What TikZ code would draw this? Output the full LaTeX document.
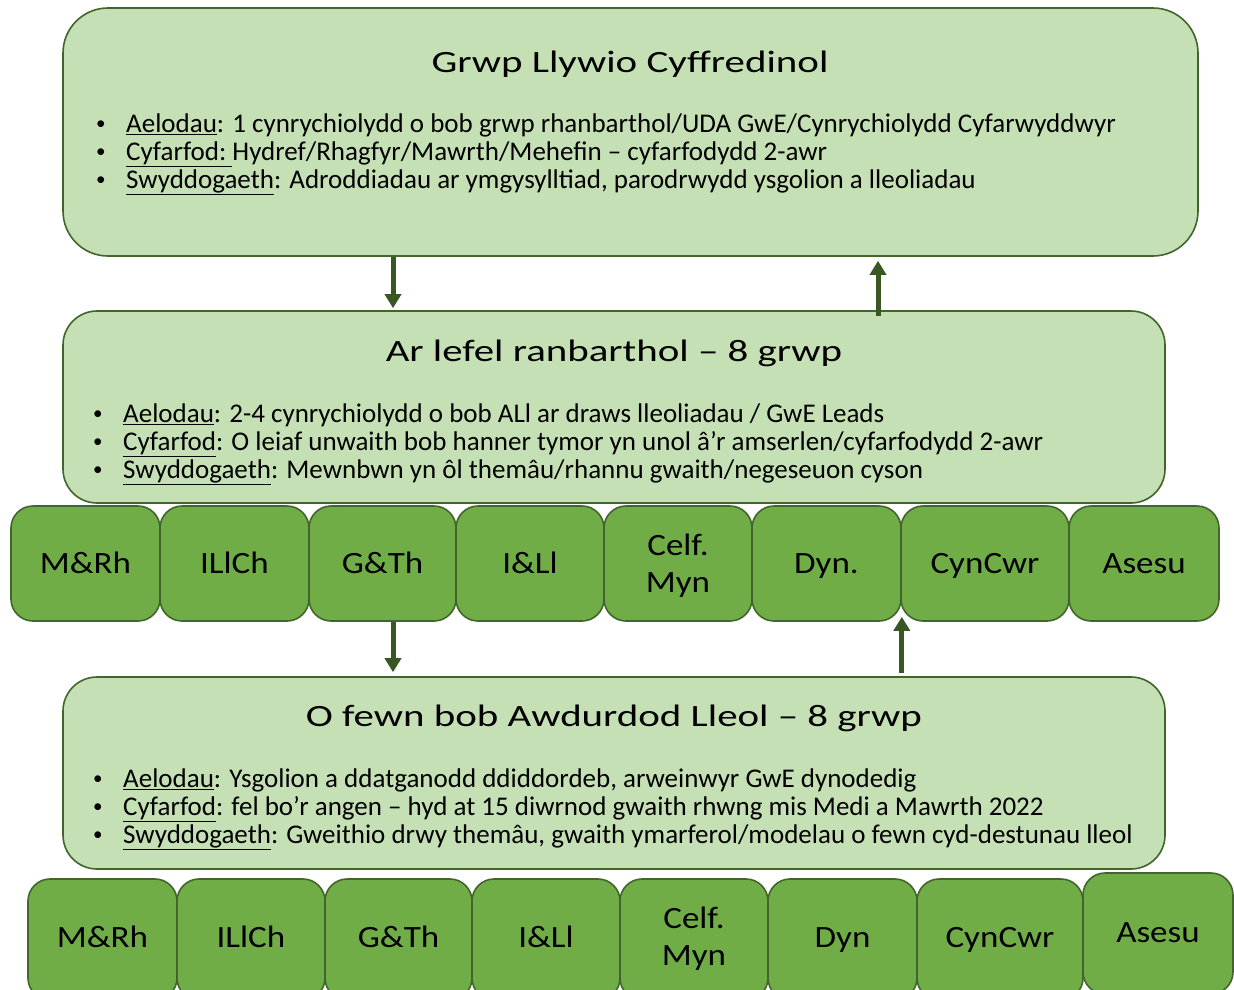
\documentclass[tikz,border=0pt]{standalone}
\usepackage{fontspec}
\setmainfont{Carlito}
\usetikzlibrary{arrows.meta}
\definecolor{lightg}{HTML}{C5E0B4}
\definecolor{midg}{HTML}{70AD47}
\definecolor{edgeg}{HTML}{41652A}
\definecolor{arrg}{HTML}{385723}
\newcommand{\tx}[1]{\scalebox{1.32}[1]{#1}}
\newcommand{\sx}[1]{\scalebox{1.13}[1]{#1}}
\newcommand{\two}[3][0pt]{\raisebox{#1}[\height][\depth]{\sx{\begin{tabular}{@{}c@{}}#2\\#3\end{tabular}}}}
\newcommand{\bl}{\makebox[32pt][l]{\hspace{2pt}\raisebox{2.5pt}{\fontsize{19}{19}\selectfont•}}}
\newcommand{\fs}{\rule{0pt}{21pt}}
\begin{document}
\begin{tikzpicture}[x=1pt,y=-1pt,
  bigbox/.style={draw=edgeg, line width=1.6pt, fill=lightg, inner sep=0pt},
  subj/.style={draw=edgeg, line width=1.6pt, fill=midg, rounded corners=22pt, inner sep=0pt,
    font=\fontsize{31}{37}\selectfont, align=center},
  one/.style={text depth=0pt, text height=#1},
  ttl/.style={font=\fontsize{31}{37}\selectfont, inner sep=0pt, anchor=base},
  blist/.style={font=\fontsize{27}{28}\selectfont, align=left, inner sep=0pt, anchor=north west},
  arr/.style={draw=arrg, line width=5pt, -{Triangle[width=16pt,length=14pt]}}]
\useasboundingbox (0,0) rectangle (1234,989);
\clip (0,0) rectangle (1234,989);

% big boxes
\node[bigbox, rounded corners=45pt, minimum width=1135pt, minimum height=248pt] (top) at (630.5,132) {};
\node[bigbox, rounded corners=34pt, minimum width=1102pt, minimum height=192pt] (mid) at (614,407) {};
\node[bigbox, rounded corners=34pt, minimum width=1102pt, minimum height=192pt] (bot) at (614,773) {};

% titles
\node[ttl] (ttop) at (630,72) {\tx{Grwp Llywio Cyffredinol}};
\node[ttl] (tmid) at (614,361) {\tx{Ar lefel ranbarthol – 8 grwp}};
\node[ttl] (tbot) at (614,726) {\tx{O fewn bob Awdurdod Lleol – 8 grwp}};

% bullet lists
\node[blist] (btop) at (94,111) {\fs\bl\underline{Aelodau}: 1 cynrychiolydd o bob grwp rhanbarthol/UDA GwE/Cynrychiolydd Cyfarwyddwyr\\
\bl\underline{Cyfarfod:\ }Hydref/Rhagfyr/Mawrth/Mehefin – cyfarfodydd 2-awr\\
\bl\underline{Swyddogaeth}: Adroddiadau ar ymgysylltiad, parodrwydd ysgolion a lleoliadau};
\node[blist] (bmid) at (91,401) {\fs\bl\underline{Aelodau}: 2-4 cynrychiolydd o bob ALl ar draws lleoliadau / GwE Leads\\
\bl\underline{Cyfarfod}: O leiaf unwaith bob hanner tymor yn unol â’r amserlen/cyfarfodydd 2-awr\\
\bl\underline{Swyddogaeth}: Mewnbwn yn ôl themâu/rhannu gwaith/negeseuon cyson};
\node[blist] (bbot) at (91,766) {\fs\bl\underline{Aelodau}: Ysgolion a ddatganodd ddiddordeb, arweinwyr GwE dynodedig\\
\bl\underline{Cyfarfod}: fel bo’r angen – hyd at 15 diwrnod gwaith rhwng mis Medi a Mawrth 2022\\
\bl\underline{Swyddogaeth}: Gweithio drwy themâu, gwaith ymarferol/modelau o fewn cyd-destunau lleol};

% row 1 subject boxes
\node[subj, one=20pt, minimum width=149pt, minimum height=115pt] (r1a) at (85.5,563.5) {\sx{M\&Rh}};
\node[subj, one=20pt, minimum width=149pt, minimum height=115pt] (r1b) at (234.5,563.5) {\sx{ILlCh}};
\node[subj, one=20pt, minimum width=147pt, minimum height=115pt] (r1c) at (382.5,563.5) {\sx{G\&Th}};
\node[subj, one=20pt, minimum width=148pt, minimum height=115pt] (r1d) at (530,563.5) {\sx{I\&Ll}};
\node[subj, minimum width=148pt, minimum height=115pt] (r1e) at (678,563.5) {\two[-3pt]{Celf.}{Myn}};
\node[subj, one=20pt, minimum width=149pt, minimum height=115pt] (r1f) at (826.5,563.5) {\sx{Dyn.}};
\node[subj, one=20pt, minimum width=168pt, minimum height=115pt] (r1g) at (985,563.5) {\sx{CynCwr}};
\node[subj, one=20pt, minimum width=150pt, minimum height=115pt] (r1h) at (1144,563.5) {\sx{Asesu}};

% row 2 subject boxes
\node[subj, one=15pt, minimum width=149pt, minimum height=121pt] (r2a) at (102.5,939.5) {\sx{M\&Rh}};
\node[subj, one=15pt, minimum width=148pt, minimum height=121pt] (r2b) at (251,939.5) {\sx{ILlCh}};
\node[subj, one=15pt, minimum width=147pt, minimum height=121pt] (r2c) at (398.5,939.5) {\sx{G\&Th}};
\node[subj, one=15pt, minimum width=148pt, minimum height=121pt] (r2d) at (546,939.5) {\sx{I\&Ll}};
\node[subj, minimum width=148pt, minimum height=121pt] (r2e) at (694,939.5) {\two{Celf.}{Myn}};
\node[subj, one=15pt, minimum width=149pt, minimum height=121pt] (r2f) at (842.5,939.5) {\sx{Dyn}};
\node[subj, one=15pt, minimum width=166pt, minimum height=121pt] (r2g) at (1000,939.5) {\sx{CynCwr}};
\node[subj, one=17pt, minimum width=150pt, minimum height=121pt] (r2h) at (1158,933.5) {\sx{Asesu}};

% arrows
\coordinate (ax1) at (393,0);
\coordinate (ax2) at (878,0);
\draw[arr, shorten >=2pt] (top.south -| ax1) -- (mid.north -| ax1);
\draw[arr, shorten <=-6pt, shorten >=4pt] (mid.north -| ax2) -- (top.south -| ax2);
\draw[arr, shorten >=4pt] (r1c.south -| ax1) -- (bot.north -| ax1);
\draw[arr, shorten <=3pt, shorten >=-5pt] (bot.north -| r1f.south east) -- (r1f.south east);
\end{tikzpicture}
\end{document}
